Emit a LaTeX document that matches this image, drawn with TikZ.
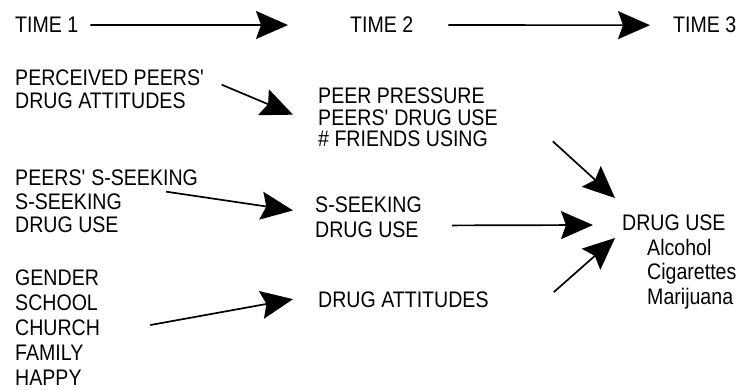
\documentclass[tikz,border=0pt]{standalone}
\usepackage{fontspec}
\setmainfont{Liberation Sans}[FakeStretch=0.87]
\usetikzlibrary{arrows.meta}

\begin{document}
\begin{tikzpicture}[x=1pt, y=-1pt,
    lbl/.style={anchor=north west, inner sep=0pt, align=left,
      font=\fontsize{22.5}{23.5}\selectfont},
    arr/.style={-{Stealth[length=32pt,width=28pt,inset=5pt]}, line width=1.7pt}]
    % Frame in pixels, y pointing down.
    \useasboundingbox (0,0) rectangle (754,390);

    % Time line.
    \node[lbl] (t1) at (15,17) {TIME 1};
    \node[lbl] (t2) at (350,17) {TIME 2};
    \node[lbl] (t3) at (673,17) {TIME 3};
    \draw[arr, shorten <=12pt, shorten >=62pt] (t1.east) -- (t2.west);
    \draw[arr, shorten <=35pt, shorten >=23pt] (t2.east) -- (t3.west);

    % Time 1 measures.
    \node[lbl, font=\fontsize{22.5}{23}\selectfont] (perc) at (15,70)
        {PERCEIVED PEERS\textquotesingle\\DRUG ATTITUDES};
    \node[lbl] (pss) at (15,170)
        {PEERS\textquotesingle{} S-SEEKING\\S-SEEKING\\DRUG USE};
    \node[lbl, font=\fontsize{22.5}{25}\selectfont] (demo) at (15,270)
        {GENDER\\SCHOOL\\CHURCH\\FAMILY\\HAPPY};

    % Time 2 measures.
    \node[lbl, font=\fontsize{22.5}{21.5}\selectfont] (peer) at (318,88)
        {PEER PRESSURE\\PEERS\textquotesingle{} DRUG USE\\\# FRIENDS USING};
    \node[lbl, font=\fontsize{22.5}{24.5}\selectfont] (ss2) at (315,197)
        {S-SEEKING\\DRUG USE};
    \node[lbl] (att2) at (318,292) {DRUG ATTITUDES};

    % Time 3 outcome.
    \node[lbl, font=\fontsize{22.5}{24.5}\selectfont] (use) at (622,215)
        {DRUG USE\\\hspace*{25pt}Alcohol\\\hspace*{25pt}Cigarettes\\\hspace*{25pt}Marijuana};

    \draw[arr] ([shift={(17,-5)}]perc.east) -- ([shift={(-25,-3)}]peer.west);
    \draw[arr] ([shift={(-32,-10)}]pss.east) -- ([shift={(-22,-7)}]ss2.west);
    \draw[arr] ([shift={(50,-3)}]demo.east) -- ([shift={(-25,-1)}]att2.west);
    \draw[arr] ([shift={(55,-6)}]peer.south east) -- ([shift={(-7,-17)}]use.north west);
    \draw[arr] ([shift={(30,8)}]ss2.east) -- ([shift={(-29,10)}]use.north west);
    \draw[arr] ([shift={(65,-8)}]att2.east) -- ([shift={(-7,23)}]use.north west);
\end{tikzpicture}
\end{document}
